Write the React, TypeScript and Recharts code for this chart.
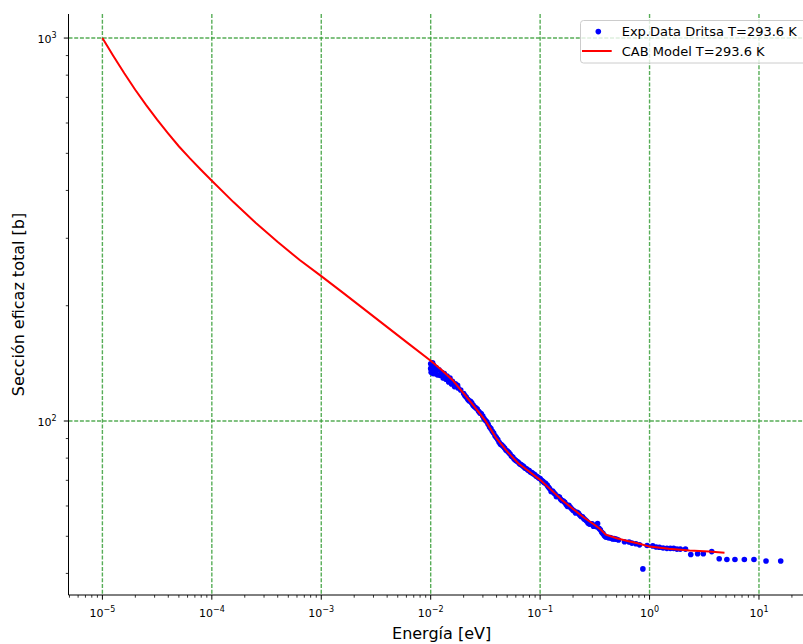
import React from 'react';
import { ScatterChart, Scatter, XAxis, YAxis, CartesianGrid, Legend } from 'recharts';

// CAB model curve (energy in eV, total cross section in b)
const modelEnergy = [
  1e-5, 1.259e-5, 1.585e-5, 1.995e-5, 2.512e-5, 3.162e-5, 3.981e-5, 5.012e-5, 6.31e-5, 7.943e-5,
  1e-4, 1.585e-4, 2.512e-4, 3.981e-4, 6.31e-4, 1e-3, 1.585e-3, 2.512e-3, 3.981e-3, 6.31e-3,
  0.01, 0.0126, 0.0158, 0.02, 0.0251, 0.0316, 0.0398, 0.0501, 0.0631, 0.0794, 0.1, 0.126, 0.158,
  0.2, 0.251, 0.316, 0.355, 0.398, 0.5, 0.631, 0.794, 1, 1.5, 2.32, 3.5, 4.84,
];
const modelSigma = [
  1000, 897.5, 809, 733, 668, 612, 564, 521, 485, 453,
  424, 372.4, 329.6, 293.8, 263.6, 239, 216.1, 195.1, 176.1, 159.0,
  143.6, 135.9, 128.0, 118.0, 109.1, 100.2, 90.2, 83.2, 77.6, 73.8, 70.2, 66.1, 62.2,
  58.9, 56.0, 53.5, 52.2, 50.5, 49.4, 48.6, 47.9, 47.0, 46.4, 45.9, 45.6, 45.3,
];

// Experimental data (Dritsa)
const expEnergy = [
  0.0100, 0.0100, 0.0101, 0.0102, 0.0103, 0.0104, 0.0105, 0.0106, 0.0108, 0.0111, 0.0112, 0.0115,
  0.0119, 0.0122, 0.0124, 0.0126, 0.0130, 0.0133, 0.0138, 0.0141, 0.0146, 0.0149, 0.0150, 0.0155,
  0.0158, 0.0165, 0.0168, 0.0176, 0.0178, 0.0188, 0.0200, 0.0211, 0.0224, 0.0237, 0.0251, 0.0266,
  0.0282, 0.0299, 0.0316, 0.0335, 0.0355, 0.0376, 0.0398, 0.0422, 0.0447, 0.0473, 0.0501, 0.0531,
  0.0562, 0.0596, 0.0631, 0.0668, 0.0708, 0.0750, 0.0794, 0.0841, 0.0891, 0.0944, 0.100, 0.106,
  0.112, 0.119, 0.126, 0.133, 0.141, 0.150, 0.158, 0.168, 0.178, 0.188, 0.200, 0.211,
  0.224, 0.237, 0.251, 0.266, 0.282, 0.299, 0.316, 0.335, 0.355, 0.376, 0.398, 0.422,
  0.447, 0.473, 0.501, 0.52, 0.59, 0.65, 0.69, 0.75, 0.81, 0.869, 0.95, 1.07,
  1.15, 1.23, 1.33, 1.44, 1.55, 1.66, 1.78, 1.91, 2.13, 2.38, 2.75, 3.1,
  3.7, 4.33, 5.09, 6.03, 7.35, 9.0, 11.6, 15.8,
  0.0205, 0.0218, 0.0231, 0.0244, 0.0258, 0.0274, 0.0290, 0.0307, 0.0326, 0.0345, 0.0366, 0.0387,
  0.0410, 0.0434, 0.0460, 0.0487, 0.0516, 0.0546, 0.0579, 0.0613, 0.0649, 0.0688, 0.0729, 0.0772,
  0.0818, 0.0866, 0.0918, 0.0972, 0.103, 0.109, 0.116, 0.122, 0.130, 0.137, 0.145, 0.154,
  0.163, 0.173, 0.183, 0.194, 0.205, 0.218, 0.230, 0.244, 0.258, 0.274, 0.290, 0.307,
  0.326, 0.345, 0.366, 0.387, 0.410, 0.434, 0.460, 0.487,
];
const expSigma = [
  141, 137, 134, 139, 136, 142, 133, 140, 133, 135, 138, 132,
  136, 131.5, 132, 134, 129.5, 133, 128.5, 131, 126.5, 127, 129.5, 125,
  127, 123, 125, 124, 122, 120.5, 118, 115.5, 113, 111.5, 109, 107.5,
  105, 103, 100.5, 98, 95.5, 93, 90.5, 88, 86.5, 85, 83.5, 82,
  80.5, 79, 78, 77, 76, 75, 74.2, 73.3, 72.5, 71.5, 70.8, 69.6,
  68.8, 67.2, 65.5, 65, 63.4, 63.3, 62, 61.3, 59.8, 59.6, 58.5, 57.5,
  57.4, 56.3, 55.6, 54.8, 53.8, 53.9, 53.2, 54.0, 52.0, 50.8, 49.8, 49.6,
  49.5, 49.3, 49.1, 48.9, 48.4, 48.3, 48.0, 47.8, 47.5, 41.1, 47.3, 47.2,
  46.9, 46.8, 46.6, 46.5, 46.5, 46.5, 46.3, 46.3, 46.3, 44.8, 45.0, 45.0,
  45.6, 43.7, 43.5, 43.5, 43.5, 43.5, 43.1, 43.1,
  116.5, 114, 112.5, 110, 108.3, 106, 104.5, 101.5, 99.5, 96.5, 94, 91.5,
  89.5, 87, 85.8, 84, 82.8, 81, 79.6, 78.5, 77.3, 76.5, 75.3, 74.5,
  73.5, 72.8, 71.8, 71.0, 70.0, 69.0, 68.0, 66.6, 65.6, 64.5, 63.6, 62.5,
  61.8, 60.5, 60.2, 59.0, 58.2, 57.8, 56.8, 56.2, 55.2, 54.2, 53.9, 53.1,
  53.0, 52.5, 51.2, 50.2, 49.7, 49.6, 49.2, 49.2,
];

const xMajorTicks = [1e-5, 1e-4, 1e-3, 1e-2, 1e-1, 1, 10];
const xExponents = ['\u22125', '\u22124', '\u22123', '\u22122', '\u22121', '0', '1'];
const yMajorTicks = [100, 1000];
const yExponents = ['2', '3'];
const minorMultipliers = [2, 3, 4, 5, 6, 7, 8, 9];

const xDomain: [number, number] = [4.9e-6, 32.3];
const yDomain: [number, number] = [35.13, 1155.6];

const xTicks: number[] = [];
[1e-6, 1e-5, 1e-4, 1e-3, 1e-2, 1e-1, 1, 10].forEach((d) => {
  if (d >= xDomain[0]) xTicks.push(d);
  minorMultipliers.forEach((m) => {
    const v = d * m;
    if (v >= xDomain[0] && v <= xDomain[1]) xTicks.push(v);
  });
});
const yTicks: number[] = [];
[10, 100, 1000].forEach((d) => {
  if (d >= yDomain[0]) yTicks.push(d);
  minorMultipliers.forEach((m) => {
    const v = d * m;
    if (v >= yDomain[0] && v <= yDomain[1]) yTicks.push(v);
  });
});

const modelData = modelEnergy.map((x, i) => ({ x, y: modelSigma[i] }));
const expData = expEnergy.map((x, i) => ({ x, y: expSigma[i] }));

const FONT = 'DejaVu Sans';
const GRID = '#3a9f3a';

const findMajor = (list: number[], v: number) =>
  list.findIndex((t) => Math.abs(Math.log10(t) - Math.log10(v)) < 1e-6);

const XTick = (props: any) => {
  const { x, y, payload } = props;
  const idx = findMajor(xMajorTicks, payload.value);
  const major = idx >= 0;
  return (
    <g>
      <line x1={x} x2={x} y1={y} y2={y + (major ? 4.7 : 2.7)} stroke="#000" strokeWidth={major ? 1 : 0.8} />
      {major && (
        <text x={x} y={y + 22} textAnchor="middle" fontFamily={FONT} fontSize={11} fill="#000">
          10
          <tspan dy={-5} fontSize={8}>{xExponents[idx]}</tspan>
        </text>
      )}
    </g>
  );
};

const YTick = (props: any) => {
  const { x, y, payload } = props;
  const idx = findMajor(yMajorTicks, payload.value);
  const major = idx >= 0;
  return (
    <g>
      <line x1={x} x2={x - (major ? 4.7 : 2.7)} y1={y} y2={y} stroke="#000" strokeWidth={major ? 1 : 0.8} />
      {major && (
        <text x={x - 12} y={y + 4.5} textAnchor="end" fontFamily={FONT} fontSize={11} fill="#000">
          10
          <tspan dy={-5} fontSize={8}>{yExponents[idx]}</tspan>
        </text>
      )}
    </g>
  );
};

const LegendBox = () => (
  <svg width={240} height={44} style={{ display: 'block' }}>
    <rect x={0.5} y={0.5} width={238} height={42.5} rx={3} ry={3} fill="#ffffff" fillOpacity={0.8} stroke="#cccccc" strokeWidth={1} />
    <circle cx={18.3} cy={11.6} r={2.8} fill="#0000ff" />
    <text x={41.7} y={16} fontFamily={FONT} fontSize={13} fill="#000">Exp.Data Dritsa T=293.6 K</text>
    <line x1={2} x2={31.7} y1={31} y2={31} stroke="#ff0000" strokeWidth={2} />
    <text x={41.7} y={36} fontFamily={FONT} fontSize={13} fill="#000">CAB Model T=293.6 K</text>
  </svg>
);

const YLabel = (props: any) => {
  const { viewBox } = props;
  const cy = viewBox.y + viewBox.height / 2;
  const cx = 18;
  return (
    <text x={cx} y={cy} transform={`rotate(-90, ${cx}, ${cy})`} textAnchor="middle" dominantBaseline="central" fontFamily={FONT} fontSize={16} fill="#000">
      Sección eficaz total [b]
    </text>
  );
};

const XLabel = (props: any) => {
  const { viewBox } = props;
  const cx = viewBox.x + viewBox.width / 2;
  return (
    <text x={cx} y={viewBox.y + 44} textAnchor="middle" fontFamily={FONT} fontSize={16} fill="#000">
      Energía [eV]
    </text>
  );
};

export default function App() {
  return (
    <div style={{ position: 'absolute', left: 0, top: 0, width: 803, height: 644, overflow: 'hidden', background: '#fff' }}>
      <ScatterChart width={830} height={644} margin={{ top: 14, right: 15.3, bottom: 19, left: 8.5 }}>
        <XAxis
          xAxisId="main"
          dataKey="x"
          type="number"
          scale="log"
          domain={xDomain}
          allowDataOverflow
          ticks={xTicks}
          interval={0}
          tickSize={0}
          tickMargin={0}
          tickLine={false}
          tick={<XTick />}
          axisLine={{ stroke: '#000', strokeWidth: 1 }}
          height={30}
          label={<XLabel />}
        />
        <XAxis
          xAxisId="top"
          orientation="top"
          dataKey="x"
          type="number"
          scale="log"
          domain={xDomain}
          allowDataOverflow
          ticks={xMajorTicks}
          interval={0}
          tick={false}
          tickLine={false}
          height={0}
          axisLine={{ stroke: '#000', strokeWidth: 1 }}
        />
        <YAxis
          yAxisId="main"
          dataKey="y"
          type="number"
          scale="log"
          domain={yDomain}
          allowDataOverflow
          ticks={yTicks}
          interval={0}
          tickSize={0}
          tickMargin={0}
          tickLine={false}
          tick={<YTick />}
          axisLine={{ stroke: '#000', strokeWidth: 1 }}
          width={60}
          label={<YLabel />}
        />
        <CartesianGrid
          xAxisId="main"
          yAxisId="main"
          verticalValues={xMajorTicks}
          horizontalValues={yMajorTicks}
          stroke={GRID}
          strokeOpacity={0.85}
          strokeWidth={1.4}
          strokeDasharray="4 1.7"
        />
        <Scatter
          name="Exp.Data Dritsa T=293.6 K"
          xAxisId="main"
          yAxisId="main"
          data={expData}
          fill="#0000ff"
          shape={(p: any) => <circle cx={p.cx} cy={p.cy} r={2.8} fill="#0000ff" />}
          isAnimationActive={false}
        />
        <Scatter
          name="CAB Model T=293.6 K"
          xAxisId="main"
          yAxisId="main"
          data={modelData}
          line={{ stroke: '#ff0000', strokeWidth: 2 }}
          lineType="joint"
          shape={() => <g />}
          isAnimationActive={false}
        />
        <Legend
          layout="vertical"
          align="center"
          verticalAlign="middle"
          content={<LegendBox />}
          wrapperStyle={{ position: 'absolute', left: 580, top: 20, width: 240, height: 44 }}
        />
      </ScatterChart>
    </div>
  );
}
